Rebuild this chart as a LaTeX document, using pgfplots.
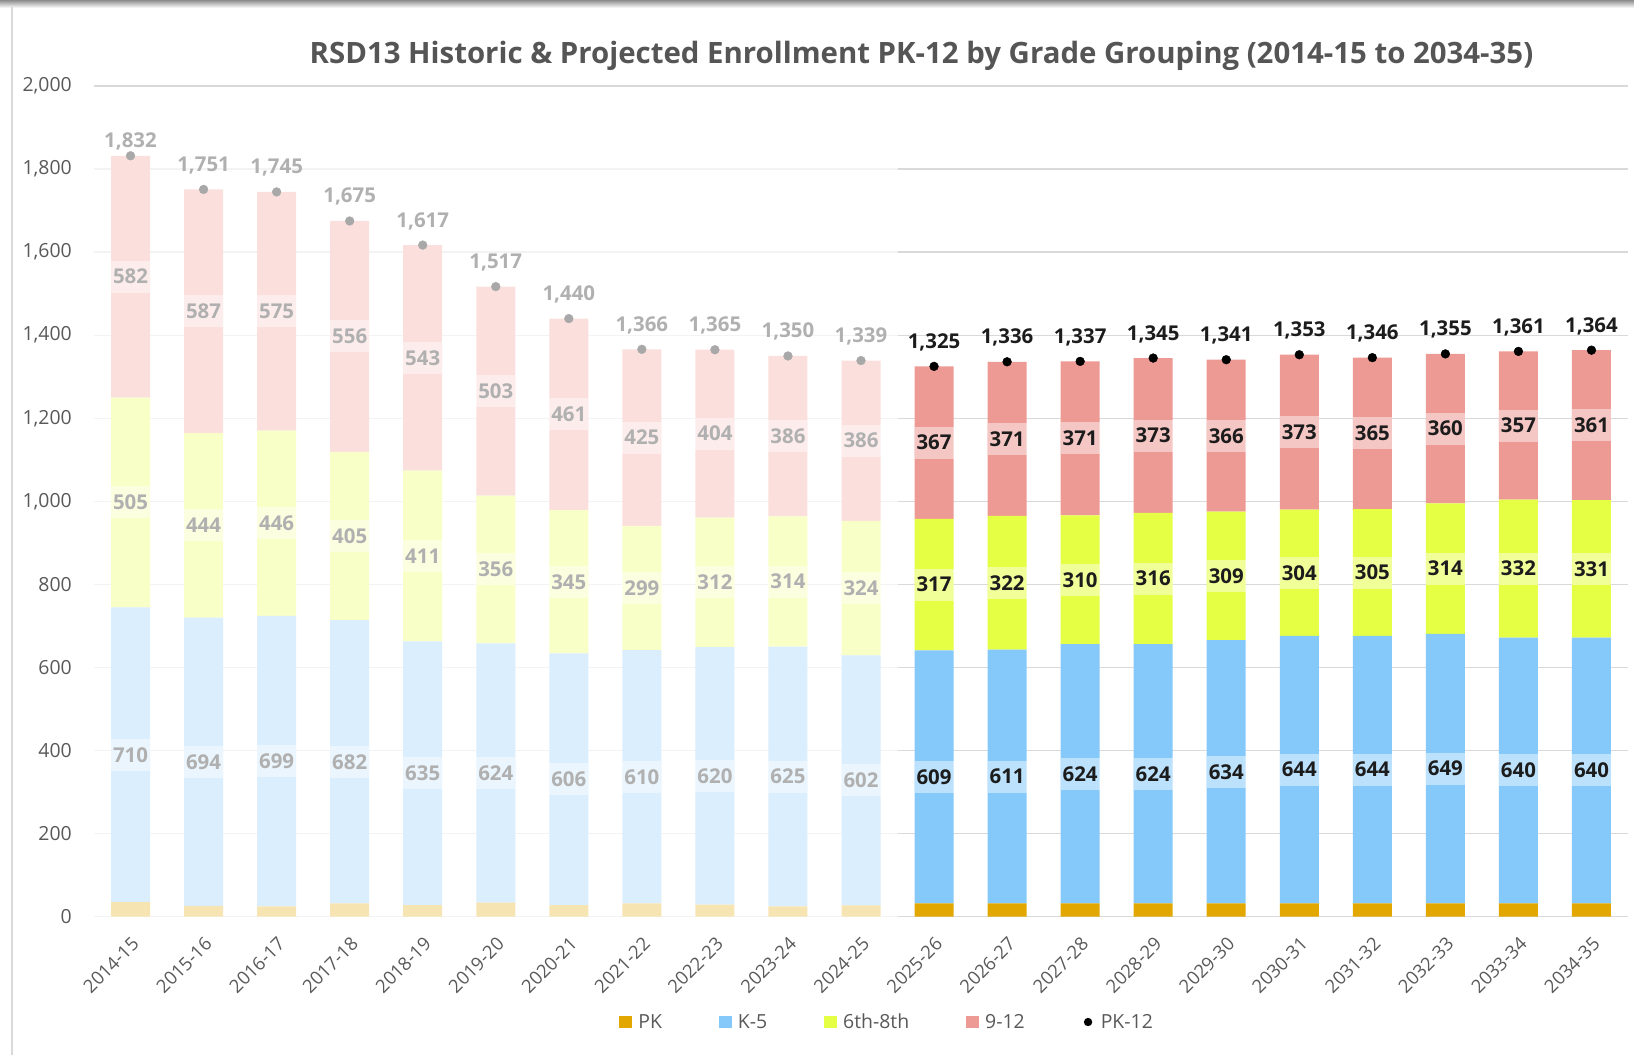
\documentclass[border=0pt]{standalone}
\usepackage{fontspec}
\setmainfont{Open Sans}
\usepackage{pgfplots}
\usepackage{pgfplotstable}
\pgfplotsset{compat=1.18}
\pgfkeys{/pgf/number format/.cd, assume math mode=true, 1000 sep={,}}

\definecolor{cPK}{RGB}{226,167,0}
\definecolor{cK}{RGB}{133,201,251}
\definecolor{cM}{RGB}{228,255,68}
\definecolor{cH}{RGB}{238,154,148}
\definecolor{fPK}{RGB}{246,228,178}
\definecolor{fK}{RGB}{218,238,253}
\definecolor{fM}{RGB}{248,255,199}
\definecolor{fH}{RGB}{250,223,221}
\definecolor{tickc}{RGB}{89,89,89}
\definecolor{gridc}{RGB}{217,217,217}
\definecolor{gridf}{RGB}{243,243,243}
\definecolor{labf}{RGB}{176,176,176}
\definecolor{dotf}{RGB}{168,168,168}
\definecolor{labd}{RGB}{28,28,28}
\definecolor{titlec}{RGB}{85,85,85}

\newcommand\tickfont{\fontsize{19.5}{23}\selectfont}
\newcommand\xtickfont{\fontsize{18.5}{22}\selectfont}
\newcommand\labfont{\fontsize{20.5}{24}\selectfont\bfseries}
\newcommand\legfont{\fontsize{19.5}{23}\selectfont}

\pgfplotstableread{
x pk k5 ms hs tot
0 35 710 505 582 1832
1 26 694 444 587 1751
2 25 699 446 575 1745
3 32 682 405 556 1675
4 28 635 411 543 1617
5 34 624 356 503 1517
6 28 606 345 461 1440
7 32 610 299 425 1366
8 29 620 312 404 1365
9 25 625 314 386 1350
10 27 602 324 386 1339
}\hist

\pgfplotstableread{
x pk k5 ms hs tot
11 32 609 317 367 1325
12 32 611 322 371 1336
13 32 624 310 371 1337
14 32 624 316 373 1345
15 32 634 309 366 1341
16 32 644 304 373 1353
17 32 644 305 365 1346
18 32 649 314 360 1355
19 32 640 332 357 1361
20 32 640 331 361 1364
}\proj

\tikzset{
  segbox/.style={anchor=center, fill=white, fill opacity=0.45, text opacity=1,
    minimum width=39bp, minimum height=32bp, inner sep=0pt, font=\labfont, text=#1},
}

\begin{document}
\begin{tikzpicture}
\path[use as bounding box] (0,0) rectangle (1634bp,1055bp);
\shade[top color=black!45, bottom color=white] (0,1055bp) rectangle (1634bp,1047bp);
\draw[gridc, line width=2bp] (12bp,0) -- (12bp,1048bp);

% Axis A: historic bars, grid, ticks, title
\begin{axis}[
  at={(94bp,138.3bp)}, anchor=south west,
  scale only axis, width=1534bp, height=830.7bp,
  xmin=-0.5, xmax=20.5, ymin=0, ymax=2000,
  ybar stacked, bar width=39bp,
  axis line style={draw=none}, major tick length=0pt,
  ytick={0,200,...,1800},
  extra y ticks={2000},
  extra y tick style={grid style={gridc, line width=1.4bp}},
  ymajorgrids, grid style={gridf, line width=1.4bp},
  yticklabel style={font=\tickfont, text=tickc, anchor=east, inner sep=0pt, xshift=-22bp},
  xtick={0,...,20},
  xticklabels={2014-15,2015-16,2016-17,2017-18,2018-19,2019-20,2020-21,2021-22,2022-23,2023-24,2024-25,2025-26,2026-27,2027-28,2028-29,2029-30,2030-31,2031-32,2032-33,2033-34,2034-35},
  xticklabel style={font=\xtickfont, text=tickc, inner sep=0pt, xshift=5bp, yshift=-24bp, rotate=45, anchor=east},
  title={RSD13 Historic \& Projected Enrollment PK-12 by Grade Grouping (2014-15 to 2034-35)},
  title style={at={(0.5394,1.0195)}, anchor=base, font=\fontsize{29.5}{34}\selectfont\bfseries, text=titlec},
]
\addplot[fill=fPK, draw=none] table[x=x,y=pk]{\hist};
\addplot[fill=fK, draw=none] table[x=x,y=k5]{\hist};
\addplot[fill=fM, draw=none] table[x=x,y=ms]{\hist};
\addplot[fill=fH, draw=none] table[x=x,y=hs]{\hist};
\end{axis}

% Axis B: projected bars with strong grid
\begin{axis}[
  at={(897.5bp,138.3bp)}, anchor=south west,
  scale only axis, width=730.5bp, height=830.7bp,
  xmin=10.5, xmax=20.5, ymin=0, ymax=2000,
  ybar stacked, bar width=39bp,
  axis line style={draw=none}, major tick length=0pt,
  ytick={0,200,...,2000}, yticklabels={}, xtick=\empty,
  ymajorgrids, grid style={gridc, line width=1.4bp},
]
\addplot[fill=cPK, draw=none] table[x=x,y=pk]{\proj};
\addplot[fill=cK, draw=none] table[x=x,y=k5]{\proj};
\addplot[fill=cM, draw=none] table[x=x,y=ms]{\proj};
\addplot[fill=cH, draw=none] table[x=x,y=hs]{\proj};
\end{axis}

% Axis C: labels, totals, legend
\begin{axis}[
  at={(94bp,138.3bp)}, anchor=south west,
  scale only axis, width=1534bp, height=830.7bp,
  xmin=-0.5, xmax=20.5, ymin=0, ymax=2000,
  hide axis, clip=false,
  legend columns=-1,
  legend style={at={(0.517,-0.1268)}, anchor=center, draw=none, fill=none,
    font=\legfont, text=tickc,
    /tikz/every even column/.append style={column sep=55bp}},
]
\addlegendimage{legend image code/.code={\fill[cPK, draw=none] (0bp,-6.3bp) rectangle (12.6bp,6.3bp); \path[draw=none, fill=none] (0bp,0bp) rectangle (17bp,0.1bp);}}
\addlegendentry{PK}
\addlegendimage{legend image code/.code={\fill[cK, draw=none] (0bp,-6.3bp) rectangle (12.6bp,6.3bp); \path[draw=none, fill=none] (0bp,0bp) rectangle (17bp,0.1bp);}}
\addlegendentry{K-5}
\addlegendimage{legend image code/.code={\fill[cM, draw=none] (0bp,-6.3bp) rectangle (12.6bp,6.3bp); \path[draw=none, fill=none] (0bp,0bp) rectangle (17bp,0.1bp);}}
\addlegendentry{6th-8th}
\addlegendimage{legend image code/.code={\fill[cH, draw=none] (0bp,-6.3bp) rectangle (12.6bp,6.3bp); \path[draw=none, fill=none] (0bp,0bp) rectangle (17bp,0.1bp);}}
\addlegendentry{9-12}
\addlegendimage{legend image code/.code={\fill[black, draw=none] (6.3bp,0bp) circle (4.2bp); \path[draw=none, fill=none] (0bp,0bp) rectangle (17bp,0.1bp);}}
\addlegendentry{PK-12}

% historic segment labels
\addplot[only marks, mark=none, forget plot, point meta=explicit, nodes near coords,
  nodes near coords style={segbox=labf}]
  table[x=x, y expr={\thisrow{pk}+0.5*\thisrow{k5}}, meta=k5]{\hist};
\addplot[only marks, mark=none, forget plot, point meta=explicit, nodes near coords,
  nodes near coords style={segbox=labf}]
  table[x=x, y expr={\thisrow{pk}+\thisrow{k5}+0.5*\thisrow{ms}}, meta=ms]{\hist};
\addplot[only marks, mark=none, forget plot, point meta=explicit, nodes near coords,
  nodes near coords style={segbox=labf}]
  table[x=x, y expr={\thisrow{pk}+\thisrow{k5}+\thisrow{ms}+0.5*\thisrow{hs}}, meta=hs]{\hist};
% projected segment labels
\addplot[only marks, mark=none, forget plot, point meta=explicit, nodes near coords,
  nodes near coords style={segbox=labd}]
  table[x=x, y expr={\thisrow{pk}+0.5*\thisrow{k5}}, meta=k5]{\proj};
\addplot[only marks, mark=none, forget plot, point meta=explicit, nodes near coords,
  nodes near coords style={segbox=labd}]
  table[x=x, y expr={\thisrow{pk}+\thisrow{k5}+0.5*\thisrow{ms}}, meta=ms]{\proj};
\addplot[only marks, mark=none, forget plot, point meta=explicit, nodes near coords,
  nodes near coords style={segbox=labd}]
  table[x=x, y expr={\thisrow{pk}+\thisrow{k5}+\thisrow{ms}+0.5*\thisrow{hs}}, meta=hs]{\proj};

% totals
\addplot[only marks, mark=*, mark size=4.4bp, color=dotf, forget plot, point meta=explicit,
  nodes near coords, nodes near coords style={anchor=base, yshift=8bp, font=\labfont, text=labf, inner sep=0pt},
  skip coords between index={1}{11}]
  table[x=x, y=tot, meta=tot]{\hist};
\addplot[only marks, mark=*, mark size=4.4bp, color=dotf, forget plot, point meta=explicit,
  nodes near coords, nodes near coords style={anchor=base, yshift=18bp, font=\labfont, text=labf, inner sep=0pt},
  skip coords between index={0}{1}]
  table[x=x, y=tot, meta=tot]{\hist};
\addplot[only marks, mark=*, mark size=4.4bp, color=black, forget plot, point meta=explicit,
  nodes near coords, nodes near coords style={anchor=base, yshift=18bp, font=\labfont, text=labd, inner sep=0pt}]
  table[x=x, y=tot, meta=tot]{\proj};
\end{axis}
\end{tikzpicture}
\end{document}
